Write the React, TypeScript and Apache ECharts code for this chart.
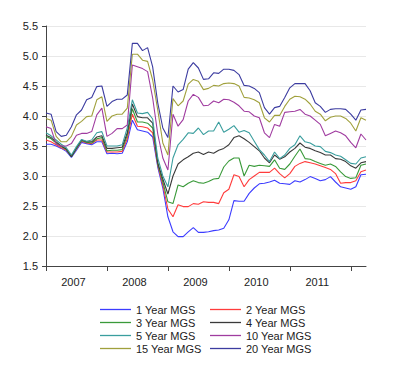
import React, { useEffect, useRef } from "react";
import * as echarts from "echarts";

const months: string[] = [];
for (let y = 2007; y <= 2012; y++) {
  for (let m = 1; m <= 12; m++) {
    if (y === 2012 && m > 4) break;
    months.push(`${y}-${m < 10 ? "0" + m : m}`);
  }
}

const yieldTicks = [1.5, 2.0, 2.5, 3.0, 3.5, 4.0, 4.5, 5.0, 5.5];

const mgs1 = [3.53,3.53,3.5,3.46,3.41,3.31,3.43,3.56,3.54,3.52,3.57,3.57,3.37,3.38,3.37,3.38,3.57,3.93,3.77,3.75,3.73,3.65,3.15,2.8,
  2.32,2.07,1.99,1.99,2.07,2.14,2.06,2.06,2.07,2.09,2.1,2.13,2.27,2.59,2.58,2.58,2.71,2.8,2.87,2.88,2.9,2.93,2.88,2.87,2.86,2.92,2.9,2.94,2.99,2.96,2.92,2.94,2.99,2.9,2.82,2.8,2.78,2.82,3.02,3.03];
const mgs2 = [3.6,3.57,3.52,3.47,3.43,3.33,3.45,3.58,3.55,3.54,3.6,3.6,3.4,3.4,3.4,3.41,3.62,4.03,3.83,3.82,3.8,3.72,3.18,2.85,
  2.45,2.32,2.52,2.49,2.49,2.54,2.53,2.57,2.56,2.56,2.54,2.72,2.78,3.02,2.99,2.82,2.94,3.0,3.06,3.06,3.06,3.13,3.04,2.97,3.04,3.16,3.21,3.24,3.22,3.2,3.17,3.14,3.11,3.04,2.88,2.89,2.89,2.92,3.07,3.1];
const mgs3 = [3.66,3.62,3.55,3.49,3.44,3.32,3.46,3.59,3.56,3.55,3.62,3.64,3.42,3.43,3.43,3.44,3.68,4.12,3.9,3.9,3.88,3.8,3.2,2.9,
  2.57,2.54,2.85,2.82,2.88,2.92,2.89,2.88,2.91,2.95,2.96,3.15,3.25,3.3,3.3,3.0,3.18,3.16,3.18,3.17,3.16,3.27,3.13,3.11,3.2,3.33,3.45,3.29,3.28,3.24,3.21,3.18,3.2,3.16,3.07,2.99,2.96,2.97,3.18,3.2];
const mgs4 = [3.68,3.64,3.57,3.5,3.45,3.32,3.47,3.6,3.57,3.57,3.65,3.67,3.46,3.46,3.47,3.48,3.72,4.2,3.99,3.97,3.97,3.88,3.22,2.95,
  2.7,3.0,3.2,3.27,3.32,3.38,3.4,3.36,3.4,3.38,3.43,3.46,3.52,3.64,3.67,3.62,3.56,3.49,3.42,3.3,3.22,3.35,3.28,3.32,3.4,3.46,3.55,3.48,3.46,3.42,3.39,3.35,3.35,3.29,3.28,3.24,3.17,3.13,3.22,3.24];
const mgs5 = [3.72,3.67,3.6,3.53,3.47,3.35,3.49,3.61,3.58,3.6,3.72,3.74,3.5,3.5,3.5,3.52,3.8,4.27,4.05,4.04,4.06,3.95,3.3,3.0,
  2.82,3.3,3.52,3.61,3.72,3.71,3.8,3.69,3.75,3.75,3.9,3.73,3.78,3.84,3.73,3.76,3.72,3.58,3.44,3.35,3.24,3.4,3.29,3.35,3.46,3.52,3.67,3.57,3.55,3.5,3.49,3.41,3.39,3.35,3.33,3.27,3.21,3.2,3.3,3.32];
const mgs10 = [3.82,3.79,3.53,3.5,3.5,3.54,3.68,3.71,3.71,3.74,4.02,4.13,3.66,3.71,3.79,3.79,3.85,4.85,4.82,4.79,
  4.74,4.3,3.7,3.3,3.1,4.03,3.83,3.94,4.25,4.36,4.31,4.17,4.18,4.25,4.22,4.28,4.27,4.23,4.17,4.08,
  4.07,4.0,3.97,3.72,3.64,3.86,3.83,4.06,4.07,4.08,4.11,4.03,4.0,3.93,3.86,3.67,3.71,3.75,3.72,3.67,3.56,3.47,3.7,3.6];
const mgs15 = [3.96,3.93,3.66,3.57,3.57,3.66,3.85,3.91,3.99,4.0,4.27,4.32,3.91,4.0,4.03,4.03,4.13,5.03,5.03,4.93,
  4.91,4.6,4.1,3.55,3.35,4.29,4.17,4.25,4.53,4.61,4.58,4.44,4.46,4.51,4.5,4.54,4.55,4.54,4.5,4.31,
  4.3,4.27,4.22,3.97,3.9,4.01,4.01,4.16,4.28,4.33,4.32,4.28,4.2,4.08,4.03,3.92,3.98,4.0,4.0,3.96,3.88,3.75,3.97,3.93];
const mgs20 = [4.05,4.03,3.74,3.66,3.68,3.82,4.02,4.1,4.27,4.31,4.49,4.5,4.16,4.24,4.28,4.28,4.35,5.21,5.21,5.09,
  5.14,4.82,4.22,3.8,3.64,4.5,4.4,4.44,4.78,4.89,4.8,4.61,4.62,4.72,4.71,4.78,4.78,4.76,4.69,4.51,
  4.5,4.46,4.39,4.14,4.03,4.14,4.16,4.31,4.47,4.54,4.54,4.54,4.42,4.22,4.16,4.06,4.11,4.12,4.12,4.11,4.03,3.93,4.1,4.11];

const seriesNames = ["1 Year MGS","2 Year MGS","3 Year MGS","4 Year MGS","5 Year MGS","10 Year MGS","15 Year MGS","20 Year MGS"];
const seriesData = [mgs1, mgs2, mgs3, mgs4, mgs5, mgs10, mgs15, mgs20];
const seriesColors = ["#3c3cff","#ff3c3c","#3a9a3a","#3a3a3a","#3a9e9e","#a03ca0","#a0a03c","#3c3ca0"];

const FONT = "'Liberation Sans', Arial, sans-serif";

export default function App() {
  const ref = useRef<HTMLDivElement>(null);
  useEffect(() => {
    if (!ref.current) return;
    const chart = echarts.init(ref.current, null, { renderer: "svg" });
    const legendCommon = {
      orient: "vertical",
      top: 303,
      padding: 0,
      itemGap: 0,
      itemWidth: 31,
      itemHeight: 8,
      icon: "path://M0,0H31V1.3H0Z",
      textStyle: { fontFamily: FONT, fontSize: 11, color: "#222", lineHeight: 13, padding: [0, 0, 0, 0] },
    };
    chart.setOption({
      animation: false,
      backgroundColor: "#fff",
      grid: { left: 46, right: 34, top: 26, bottom: 115, containLabel: false },
      legend: [
        { ...legendCommon, left: 100, data: ["1 Year MGS","3 Year MGS","5 Year MGS","15 Year MGS"] },
        { ...legendCommon, left: 210, data: ["2 Year MGS","4 Year MGS","10 Year MGS","20 Year MGS"] },
      ],
      xAxis: {
        type: "category",
        data: months,
        boundaryGap: false,
        axisLine: { lineStyle: { color: "#444", width: 1 } },
        axisTick: { show: true, length: 5, interval: (i: number) => i % 12 === 0, lineStyle: { color: "#444" } },
        axisLabel: {
          interval: (i: number) => i % 12 === 6,
          formatter: (v: string) => v.slice(0, 4),
          fontFamily: FONT,
          fontSize: 11,
          color: "#222",
          margin: 10,
          padding: [0, 6, 0, 0],
        },
        splitLine: { show: false },
      },
      yAxis: {
        type: "value",
        min: yieldTicks[0],
        max: yieldTicks[yieldTicks.length - 1],
        interval: 0.5,
        axisLine: { show: true, lineStyle: { color: "#444", width: 1 } },
        axisTick: { show: true, length: 4, lineStyle: { color: "#444" } },
        axisLabel: {
          formatter: (v: number) => v.toFixed(1),
          fontFamily: FONT,
          fontSize: 11,
          color: "#222",
          margin: 8,
        },
        splitLine: { show: true, lineStyle: { color: "#e8e8e8", width: 1 } },
      },
      series: seriesNames.map((name, k) => ({
        name,
        type: "line",
        data: seriesData[k],
        symbol: "none",
        showSymbol: false,
        lineStyle: { width: 1.1, color: seriesColors[k] },
        itemStyle: { color: seriesColors[k] },
      })),
    });
    return () => chart.dispose();
  }, []);
  return <div ref={ref} style={{ width: 400, height: 381, position: "absolute", left: 0, top: 0 }} />;
}
